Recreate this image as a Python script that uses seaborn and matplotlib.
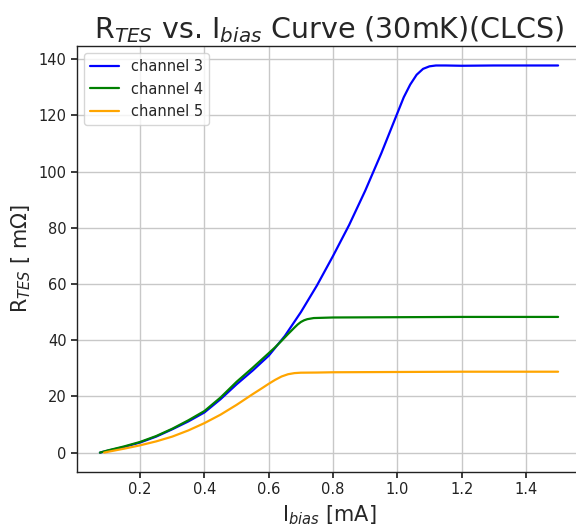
import pandas as pd
import matplotlib.pyplot as plt
import seaborn as sns

sns.set_theme(style="ticks")
plt.rcParams["font.family"] = ["DejaVu Sans"]

# channel 3
ch3_x = [0.075, 0.1, 0.15, 0.2, 0.25, 0.3, 0.35, 0.4, 0.45, 0.5, 0.55, 0.6,
         0.65, 0.7, 0.75, 0.8, 0.85, 0.9, 0.95, 1.0, 1.02, 1.04, 1.06, 1.08,
         1.10, 1.12, 1.15, 1.2, 1.3, 1.4, 1.5]
ch3_r = [0.0, 0.7, 2.0, 3.6, 5.7, 8.3, 11.1, 14.3, 19.0, 24.3, 29.2, 34.5,
         41.5, 50.0, 59.5, 70.0, 81.0, 93.2, 106.5, 120.8, 126.5, 131.0, 134.5, 136.6,
         137.5, 137.8, 137.8, 137.7, 137.8, 137.8, 137.8]

# channel 4
ch4_x = [0.075, 0.1, 0.15, 0.2, 0.25, 0.3, 0.35, 0.4, 0.45, 0.5, 0.55, 0.6,
         0.62, 0.64, 0.66, 0.68, 0.69, 0.70, 0.71, 0.72, 0.74, 0.77, 0.8, 1.0,
         1.2, 1.5]
ch4_r = [0.0, 0.8, 2.2, 3.8, 5.9, 8.5, 11.5, 14.8, 19.6, 25.2, 30.2, 35.4,
         37.5, 39.8, 42.2, 44.5, 45.6, 46.5, 47.1, 47.5, 47.9, 48.0, 48.1, 48.2,
         48.3, 48.3]

# channel 5
ch5_x = [0.088, 0.1, 0.15, 0.2, 0.25, 0.3, 0.35, 0.4, 0.45, 0.5, 0.55, 0.58,
         0.6, 0.62, 0.64, 0.66, 0.68, 0.7, 0.75, 0.8, 1.0, 1.2, 1.5]
ch5_r = [0.0, 0.3, 1.4, 2.6, 4.0, 5.7, 7.9, 10.5, 13.5, 17.0, 20.8, 23.0,
         24.5, 25.9, 27.1, 27.9, 28.3, 28.45, 28.5, 28.6, 28.7, 28.8, 28.8]

df = pd.concat([
    pd.DataFrame({"I": ch3_x, "R": ch3_r, "channel": "channel 3"}),
    pd.DataFrame({"I": ch4_x, "R": ch4_r, "channel": "channel 4"}),
    pd.DataFrame({"I": ch5_x, "R": ch5_r, "channel": "channel 5"}),
])

fig = plt.figure(figsize=(5.76, 5.29), dpi=100)
ax = fig.add_axes([0.1337, 0.1078, 0.875, 0.805])

sns.lineplot(data=df, x="I", y="R", hue="channel", sort=False,
             palette=["blue", "green", "orange"], linewidth=1.6, ax=ax)

ax.margins(0.05)
ax.grid(True, color="#c8c8c8", linewidth=1.0)
for s in ax.spines.values():
    s.set_color("#222222")
    s.set_linewidth(1.0)
# axes run past the right edge of the picture
ax.spines["right"].set_visible(False)
ax.tick_params(labelsize=10.5, colors="#222222", length=4)

ax.set_title(r"R$_{TES}$ vs. I$_{bias}$ Curve (30mK)(CLCS)", fontsize=20.5)
ax.set_xlabel(r"I$_{bias}$ [mA]", fontsize=15)
ax.set_ylabel(r"R$_{TES}$ [ m$\Omega$]", fontsize=15)
ax.legend(loc="upper left", fontsize=10.5, title=None, frameon=True)

plt.savefig("out.png", dpi=100)
